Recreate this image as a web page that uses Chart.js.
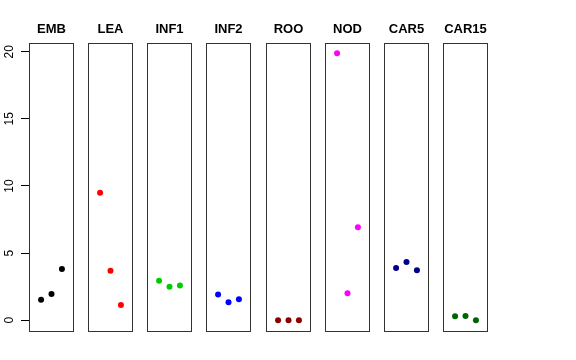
<!DOCTYPE html>
<html>
<head>
<meta charset="utf-8">
<script src="https://cdn.jsdelivr.net/npm/chart.js@4/dist/chart.umd.min.js"></script>
<style>
  body { margin: 0; background: #fff; width: 576px; height: 360px; position: relative; overflow: hidden; }
  canvas { position: absolute; top: 0; }
</style>
</head>
<body>
<script>
// panel names and values (3 replicates each)
const groups = ['EMB', 'LEA', 'INF1', 'INF2', 'ROO', 'NOD', 'CAR5', 'CAR15'];
const xPos = [1, 2, 3];
const emb   = [1.53, 1.96, 3.82];
const lea   = [9.50, 3.69, 1.14];
const inf1  = [2.95, 2.50, 2.58];
const inf2  = [1.91, 1.34, 1.56];
const roo   = [0.0, 0.0, 0.0];
const nod   = [19.88, 2.01, 6.92];
const car5  = [3.89, 4.34, 3.72];
const car15 = [0.30, 0.32, 0.0];
const yTicks = [0, 5, 10, 15, 20];

const series = [emb, lea, inf1, inf2, roo, nod, car5, car15];
const colors = ['#000000', '#FF0000', '#00CD00', '#0000FF', '#8B0000', '#FF00FF', '#00008B', '#006400'];
const panelLeft = [29, 88, 147, 206, 266, 325, 384, 443];

// box round each panel
const frame = {
  id: 'frame',
  afterDraw(chart) {
    const ca = chart.chartArea, ctx = chart.ctx;
    ctx.save();
    ctx.strokeStyle = '#333';
    ctx.lineWidth = 1;
    ctx.strokeRect(Math.round(ca.left) + 0.5, Math.round(ca.top) + 0.5, 44, 288);
    ctx.restore();
  }
};

// rotated y labels like base R
const yLabels = {
  id: 'yLabels',
  afterDraw(chart) {
    const s = chart.scales.y, ctx = chart.ctx;
    ctx.save();
    ctx.font = '12px "Liberation Sans", Arial, sans-serif';
    ctx.fillStyle = '#000';
    ctx.textAlign = 'center';
    ctx.textBaseline = 'middle';
    yTicks.forEach(v => {
      ctx.save();
      ctx.translate(9.5, s.getPixelForValue(v));
      ctx.rotate(-Math.PI / 2);
      ctx.fillText(String(v), 0, 0);
      ctx.restore();
    });
    ctx.restore();
  }
};

groups.forEach((name, i) => {
  const first = i === 0;
  const c = document.createElement('canvas');
  const w = first ? 76 : 49;
  c.width = w; c.height = 360;
  c.style.left = (first ? 0 : panelLeft[i] - 2) + 'px';
  c.style.width = w + 'px'; c.style.height = '360px';
  document.body.appendChild(c);

  new Chart(c, {
    type: 'scatter',
    data: {
      datasets: [{
        data: xPos.map((x, j) => ({ x: x, y: series[i][j] })),
        backgroundColor: colors[i],
        borderWidth: 0,
        pointRadius: 3
      }]
    },
    options: {
      responsive: false,
      animation: false,
      layout: { autoPadding: false, padding: { left: first ? 0 : 2, right: 2, top: 0, bottom: 29 } },
      plugins: {
        legend: { display: false },
        tooltip: { enabled: false },
        title: {
          display: true,
          text: name,
          fullSize: false,
          color: '#000',
          font: { family: '"Liberation Sans", Arial, sans-serif', size: 13, weight: 'bold', lineHeight: 1 },
          padding: { top: 23, bottom: 7 }
        }
      },
      scales: {
        x: { type: 'linear', min: -0.16, max: 4.16, display: false },
        y: {
          type: 'linear', min: -0.8, max: 20.65, position: 'left',
          display: first,
          afterBuildTicks: s => { s.ticks = yTicks.map(v => ({ value: v })); },
          afterFit: s => { if (first) s.width = 29; },
          ticks: { display: false },
          grid: { drawOnChartArea: false, drawTicks: true, tickLength: 8, color: '#000' },
          border: { display: false }
        }
      }
    },
    plugins: first ? [frame, yLabels] : [frame]
  });
});
</script>
</body>
</html>
